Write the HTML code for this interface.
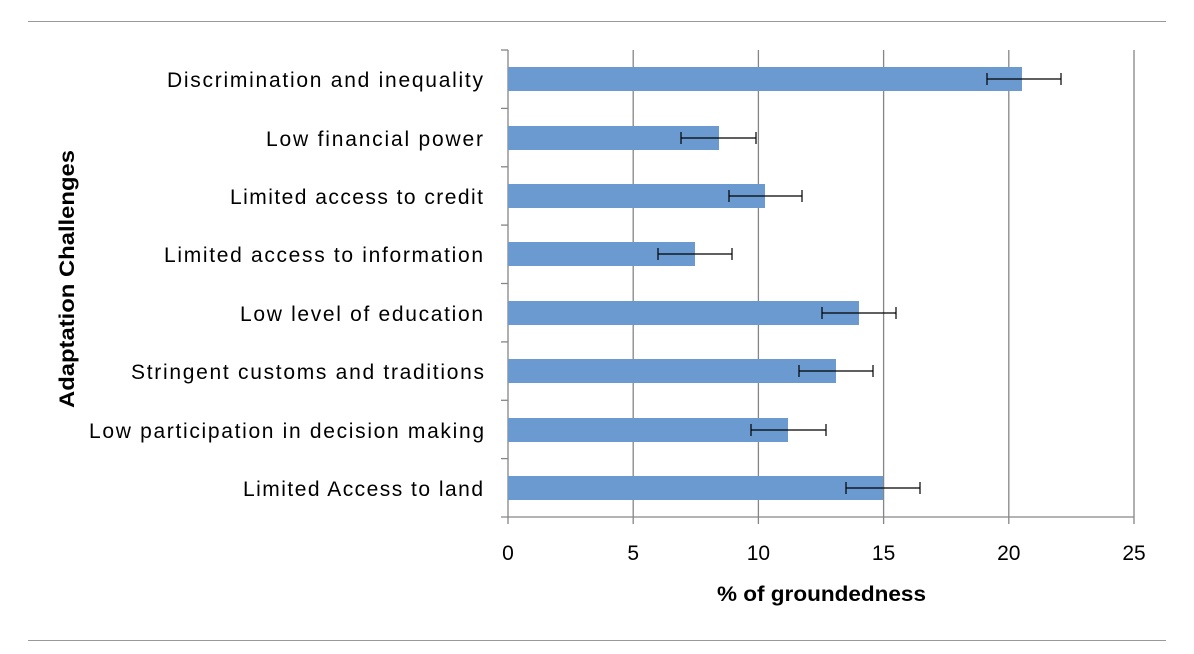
<!DOCTYPE html>
<html><head><meta charset="utf-8"><style>
html,body{margin:0;padding:0;background:#fff;}
svg{display:block;font-family:"Liberation Sans",Arial,sans-serif;}
</style></head><body>
<svg width="1194" height="654" viewBox="0 0 1194 654" xmlns="http://www.w3.org/2000/svg">
<line x1="28" y1="21.5" x2="1166" y2="21.5" stroke="#999" stroke-width="1"/>
<line x1="28" y1="640.5" x2="1166" y2="640.5" stroke="#999" stroke-width="1"/>
<g stroke="#868686" stroke-width="1.3">
<line x1="633.2" y1="50" x2="633.2" y2="524"/>
<line x1="758.4" y1="50" x2="758.4" y2="524"/>
<line x1="883.6" y1="50" x2="883.6" y2="524"/>
<line x1="1008.8" y1="50" x2="1008.8" y2="524"/>
<line x1="1134" y1="50" x2="1134" y2="524"/>
<line x1="508" y1="50" x2="508" y2="524"/>
<line x1="501" y1="517" x2="1134" y2="517"/>
<line x1="501" y1="50" x2="508" y2="50"/>
<line x1="501" y1="108.4" x2="508" y2="108.4"/>
<line x1="501" y1="166.8" x2="508" y2="166.8"/>
<line x1="501" y1="225.1" x2="508" y2="225.1"/>
<line x1="501" y1="283.5" x2="508" y2="283.5"/>
<line x1="501" y1="341.9" x2="508" y2="341.9"/>
<line x1="501" y1="400.3" x2="508" y2="400.3"/>
<line x1="501" y1="458.6" x2="508" y2="458.6"/>
</g>
<g fill="#6a9ad0">
<rect x="508" y="67" width="514" height="24"/>
<rect x="508" y="126" width="211" height="24"/>
<rect x="508" y="184" width="257" height="24"/>
<rect x="508" y="242" width="187" height="24"/>
<rect x="508" y="301" width="351" height="24"/>
<rect x="508" y="359" width="328" height="24"/>
<rect x="508" y="418" width="280" height="24"/>
<rect x="508" y="476" width="375" height="24"/>
</g>
<g stroke="#000" stroke-width="1.2" fill="none">
<path d="M987 79H1061M987 73V85M1061 73V85"/>
<path d="M681 138H756M681 132V144M756 132V144"/>
<path d="M729 196H802M729 190V202M802 190V202"/>
<path d="M658 254H732M658 248V260M732 248V260"/>
<path d="M822 313H896M822 307V319M896 307V319"/>
<path d="M799 371H873M799 365V377M873 365V377"/>
<path d="M751 430H826M751 424V436M826 424V436"/>
<path d="M846 488H920M846 482V494M920 482V494"/>
</g>
<g font-size="21" fill="#000" lengthAdjust="spacing">
<text x="167" y="87" textLength="316" lengthAdjust="spacing">Discrimination and inequality</text>
<text x="266" y="146" textLength="217" lengthAdjust="spacing">Low financial power</text>
<text x="230" y="204" textLength="253" lengthAdjust="spacing">Limited access to credit</text>
<text x="164" y="262" textLength="319" lengthAdjust="spacing">Limited access to information</text>
<text x="240" y="321" textLength="243" lengthAdjust="spacing">Low level of education</text>
<text x="131" y="379" textLength="353" lengthAdjust="spacing">Stringent customs and traditions</text>
<text x="89" y="438" textLength="395" lengthAdjust="spacing">Low participation in decision making</text>
<text x="243" y="496" textLength="240" lengthAdjust="spacing">Limited Access to land</text>
</g>
<g font-size="21" fill="#000" text-anchor="middle">
<text x="508" y="560">0</text>
<text x="633.2" y="560">5</text>
<text x="758.4" y="560">10</text>
<text x="883.6" y="560">15</text>
<text x="1008.8" y="560">20</text>
<text x="1134" y="560">25</text>
</g>
<text x="717" y="601" font-size="21" font-weight="bold" textLength="209" lengthAdjust="spacingAndGlyphs">% of groundedness</text>
<text transform="translate(74,408) rotate(-90)" font-size="21" font-weight="bold" textLength="258" lengthAdjust="spacingAndGlyphs">Adaptation Challenges</text>
</svg>
</body></html>
